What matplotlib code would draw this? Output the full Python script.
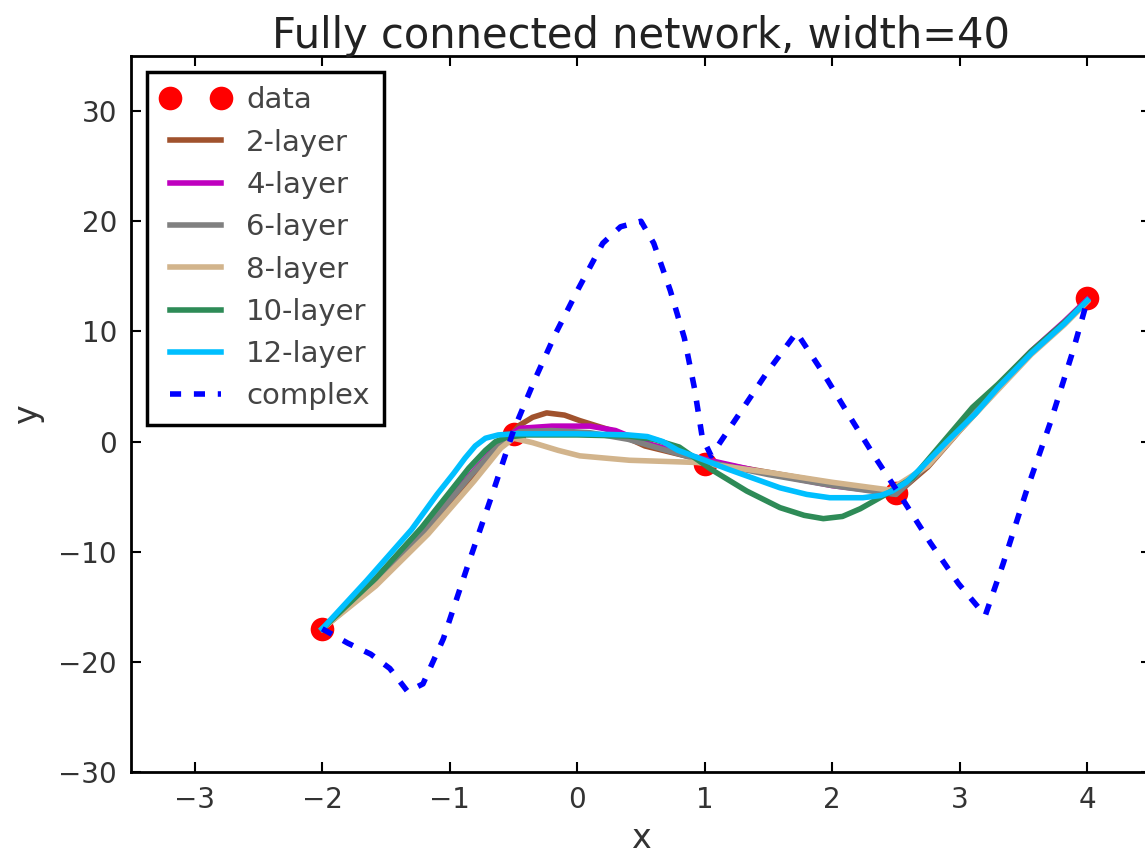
import matplotlib
matplotlib.use("Agg")
import matplotlib.pyplot as plt

# ---- data ----
data_x = [-2, -0.5, 1, 2.5, 4]
data_y = [-17, 0.7, -2, -4.7, 13]

l2_x = [-2, -1.58, -1.17, -0.81, -0.58, -0.45, -0.35, -0.24, -0.1, 0.02, 0.27, 0.53, 0.92, 1.0, 1.5, 2.0, 2.5, 2.75, 3.0, 3.3, 3.56, 3.82, 4.0]
l2_y = [-17, -12.9, -8.1, -3.3, -0.2, 1.5, 2.2, 2.6, 2.4, 1.9, 1.0, -0.4, -1.5, -1.8, -2.8, -3.8, -4.8, -2.3, 1.0, 4.8, 8.0, 10.7, 12.8]

l4_x = [-2, -1.58, -1.2, -0.83, -0.6, -0.45, -0.2, 0.1, 0.3, 0.53, 0.92, 1.5, 2.0, 2.5, 2.75, 3.0, 3.3, 3.56, 3.82, 4.0]
l4_y = [-17, -12.7, -8.0, -2.9, 0.0, 1.2, 1.4, 1.4, 1.0, -0.1, -1.4, -2.9, -4.0, -4.7, -2.0, 1.4, 5.1, 8.2, 10.9, 12.9]

l6_x = [-2, -1.58, -1.2, -0.83, -0.6, -0.45, -0.2, 0.1, 0.4, 0.7, 1.0, 1.5, 2.0, 2.5, 2.75, 3.0, 3.3, 3.56, 3.82, 4.0]
l6_y = [-17, -12.8, -8.1, -3.0, -0.1, 0.9, 1.0, 0.8, 0.2, -0.8, -1.8, -3.0, -4.0, -4.8, -2.1, 1.3, 5.0, 8.1, 10.8, 12.8]

l8_x = [-2, -1.58, -1.17, -0.81, -0.6, -0.5, -0.35, -0.15, 0.02, 0.41, 0.94, 1.5, 2.0, 2.45, 2.75, 3.0, 3.3, 3.56, 3.82, 4.0]
l8_y = [-17, -13.1, -8.4, -3.6, -0.6, 0.3, -0.1, -0.8, -1.3, -1.7, -1.9, -2.8, -3.7, -4.4, -2.2, 1.0, 4.7, 7.9, 10.6, 12.7]

l10_x = [-2, -1.58, -1.22, -0.85, -0.72, -0.64, -0.55, -0.4, 0, 0.4, 0.6, 0.8, 1.06, 1.33, 1.59, 1.78, 1.93, 2.08, 2.22, 2.45, 2.63, 2.85, 3.1, 3.3, 3.56, 3.82, 4.0]
l10_y = [-17, -12.4, -7.8, -2.4, -0.8, 0.0, 0.4, 0.6, 0.6, 0.5, 0.2, -0.5, -2.6, -4.5, -6.0, -6.7, -7.0, -6.8, -6.1, -4.6, -3.3, -0.3, 3.1, 5.2, 8.2, 10.8, 12.8]

l12_x = [-2, -1.65, -1.3, -1.1, -0.97, -0.88, -0.8, -0.72, -0.62, -0.5, 0, 0.4, 0.55, 0.67, 0.79, 1.0, 1.18, 1.59, 1.8, 1.98, 2.24, 2.38, 2.47, 2.58, 2.68, 2.9, 3.12, 3.3, 3.56, 3.82, 4.0]
l12_y = [-17, -12.6, -8.0, -4.8, -2.9, -1.5, -0.4, 0.3, 0.6, 0.7, 0.7, 0.6, 0.45, 0.0, -0.8, -1.7, -2.5, -4.2, -4.8, -5.1, -5.1, -4.9, -4.5, -3.7, -2.6, 0.0, 2.5, 4.9, 8.0, 10.7, 12.8]

cx_x = [-2, -1.80, -1.62, -1.47, -1.33, -1.21, -1.05, -0.86, -0.67, -0.5, -0.33, -0.17, 0.01, 0.2, 0.34, 0.5, 0.6, 0.73, 0.84, 0.92, 0.98, 1.05, 1.27, 1.49, 1.72, 1.93, 2.13, 2.34, 2.55, 2.77, 2.99, 3.2, 3.34, 3.52, 3.71, 3.89, 4.0]
cx_y = [-17, -18.3, -19.3, -20.6, -22.7, -22.0, -17.9, -11.3, -4.9, 1.0, 5.7, 9.8, 13.9, 18.0, 19.5, 20.0, 18.0, 13.7, 9.4, 4.8, 0.4, -1.3, 2.5, 6.3, 9.9, 6.2, 2.4, -1.5, -5.2, -9.2, -12.9, -15.8, -11.1, -4.6, 1.7, 8.3, 12.8]

series = [
    (l2_x, l2_y, '#a0522d', '2-layer'),
    (l4_x, l4_y, '#bf00bf', '4-layer'),
    (l6_x, l6_y, '#808080', '6-layer'),
    (l8_x, l8_y, '#d2b48c', '8-layer'),
    (l10_x, l10_y, '#2e8b57', '10-layer'),
    (l12_x, l12_y, '#00bfff', '12-layer'),
]

x_ticks = [-3, -2, -1, 0, 1, 2, 3, 4]
y_ticks = [-30, -20, -10, 0, 10, 20, 30]

plt.rcParams['font.family'] = ['DejaVu Sans']
fig = plt.figure(figsize=(11.45, 8.55), dpi=100)
fig.patch.set_facecolor('white')
L, R, B, T = 131, 1151, 772, 56
ax = fig.add_axes([L / 1145, (855 - B) / 855, (R - L) / 1145, (B - T) / 855])

ax.plot(data_x, data_y, 'o', color='red', markersize=17, markeredgewidth=0, label='data')
for xs, ys, c, lab in series:
    ax.plot(xs, ys, color=c, lw=4, label=lab, solid_joinstyle='round')
ax.plot(cx_x, cx_y, color='blue', lw=4, dashes=(2, 2.3), label='complex')

ax.set_xlim(-3.5, 4.5)
ax.set_ylim(-30, 35)
ax.set_xticks(x_ticks)
ax.set_yticks(y_ticks)
ax.tick_params(direction='in', length=7, width=1.5, top=True, right=True,
               labelsize=20, pad=10, labelcolor='#333333')
for s in ax.spines.values():
    s.set_linewidth(2)
ax.set_xlabel('x', fontsize=24, color='#333333', labelpad=6)
ax.set_ylabel('y', fontsize=24, color='#333333', labelpad=10)
ax.set_title('Fully connected network, width=40', fontsize=30, color='#222222', pad=6)

leg = ax.legend(loc='upper left', bbox_to_anchor=(0.0157, 0.978), borderaxespad=0,
                numpoints=2, fontsize=21, handlelength=2.35, handletextpad=0.55,
                labelspacing=0.49, borderpad=0.5, fancybox=False, framealpha=1)
leg.get_frame().set_edgecolor('black')
leg.get_frame().set_linewidth(2.5)
for t in leg.get_texts():
    t.set_color('#444444')

fig.savefig('out.png', dpi=100, facecolor='white')
